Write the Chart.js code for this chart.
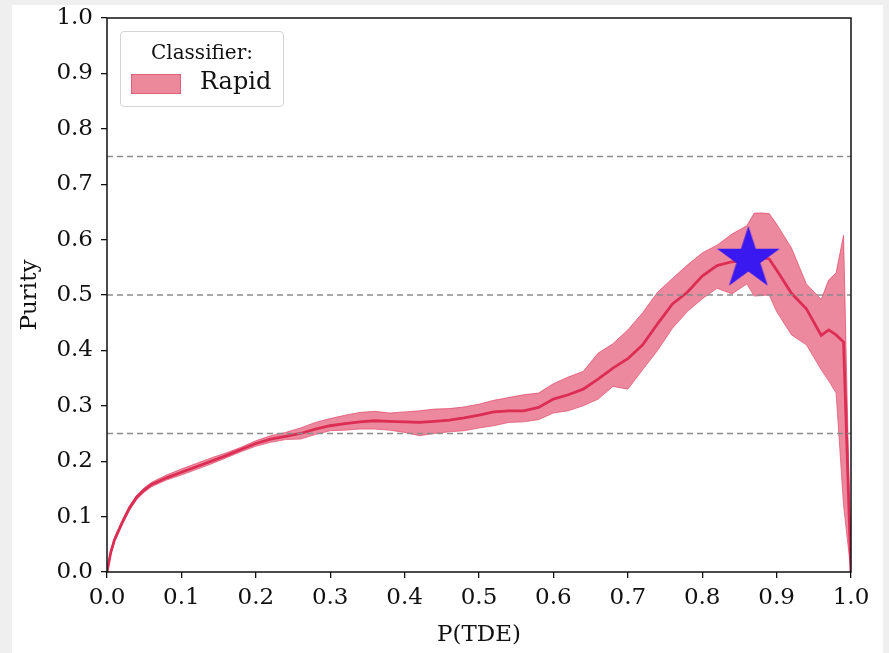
<!DOCTYPE html>
<html>
<head>
<meta charset="utf-8">
<script src="https://cdn.jsdelivr.net/npm/chart.js@4.4.1/dist/chart.umd.min.js"></script>
<style>
  html, body { margin: 0; padding: 0; background: #efefef; }
  #card { position: absolute; left: 12px; top: 5px; width: 871px; height: 648px; background: #fff; }
  #chart { position: absolute; left: 0; top: 0; }
  #legend {
    position: absolute; left: 108px; top: 26px; width: 162px; height: 74px;
    border: 1px solid #d4d4d4; border-radius: 4px; background: rgba(255,255,255,0.85);
    font-family: "DejaVu Serif", serif; color: #111;
  }
  #legend .title { position: absolute; left: 0; right: 0; top: 8px; text-align: center; font-size: 20px; }
  #legend .patch { position: absolute; left: 10px; top: 42px; width: 48px; height: 18px; background: #ec8a9c; border: 1px solid #e0607a; }
  #legend .label { position: absolute; left: 79px; top: 35px; font-size: 24px; }
</style>
</head>
<body>
<div id="card">
  <canvas id="chart" width="871" height="648"></canvas>
  <div id="legend">
    <div class="title">Classifier:</div>
    <div class="patch"></div>
    <div class="label">Rapid</div>
  </div>
</div>
<script>
// P(TDE) threshold grid
const pTDE = [0, 0.005, 0.01, 0.02, 0.03, 0.04, 0.05, 0.06, 0.08, 0.10, 0.12, 0.14, 0.16, 0.18, 0.20,
  0.22, 0.24, 0.26, 0.28, 0.30, 0.32, 0.34, 0.36, 0.38, 0.40, 0.42, 0.44, 0.46, 0.48, 0.50,
  0.52, 0.54, 0.56, 0.58, 0.60, 0.62, 0.64, 0.66, 0.68, 0.70, 0.72, 0.74, 0.76, 0.78, 0.80,
  0.82, 0.84, 0.86, 0.87, 0.88, 0.89, 0.90, 0.92, 0.94, 0.96, 0.97, 0.98, 0.99, 1.0];

// mean purity
const purityMean = [0, 0.035, 0.058, 0.088, 0.115, 0.135, 0.148, 0.158, 0.170, 0.180, 0.190, 0.200, 0.210, 0.221, 0.232,
  0.240, 0.245, 0.250, 0.258, 0.264, 0.268, 0.271, 0.273, 0.272, 0.271, 0.270, 0.272, 0.274, 0.278, 0.283,
  0.289, 0.291, 0.291, 0.297, 0.312, 0.320, 0.330, 0.348, 0.368, 0.385, 0.410, 0.448, 0.484, 0.505, 0.534,
  0.553, 0.560, 0.563, 0.565, 0.568, 0.565, 0.545, 0.503, 0.475, 0.427, 0.437, 0.428, 0.415, 0];

// upper / lower envelope
const purityHigh = [0.002, 0.038, 0.062, 0.092, 0.119, 0.139, 0.152, 0.162, 0.175, 0.186, 0.196, 0.206, 0.215, 0.225, 0.237,
  0.246, 0.252, 0.260, 0.270, 0.277, 0.283, 0.288, 0.290, 0.287, 0.289, 0.291, 0.294, 0.295, 0.298, 0.303,
  0.310, 0.315, 0.320, 0.323, 0.340, 0.352, 0.362, 0.395, 0.412, 0.437, 0.468, 0.505, 0.530, 0.554, 0.576,
  0.590, 0.610, 0.625, 0.648, 0.648, 0.647, 0.628, 0.585, 0.520, 0.492, 0.527, 0.540, 0.608, 0];

const purityLow = [0, 0.032, 0.054, 0.084, 0.111, 0.131, 0.144, 0.154, 0.166, 0.175, 0.185, 0.195, 0.206, 0.217, 0.227,
  0.234, 0.239, 0.240, 0.248, 0.255, 0.256, 0.258, 0.258, 0.256, 0.252, 0.246, 0.250, 0.253, 0.255, 0.260,
  0.264, 0.270, 0.271, 0.275, 0.287, 0.291, 0.300, 0.312, 0.335, 0.330, 0.365, 0.400, 0.440, 0.470, 0.493,
  0.512, 0.502, 0.520, 0.498, 0.499, 0.500, 0.470, 0.428, 0.410, 0.365, 0.345, 0.323, 0.120, 0];

const refLevels = [0.25, 0.5, 0.75];
const bestPoint = { x: 0.862, y: 0.565 };
const axisTicks = [0, 0.1, 0.2, 0.3, 0.4, 0.5, 0.6, 0.7, 0.8, 0.9, 1.0];

const SERIF = '"DejaVu Serif", serif';
const pts = ys => pTDE.map((x, i) => ({ x: x, y: ys[i] }));

// filled five-point star used as marker
function makeStar(r, color) {
  const c = document.createElement('canvas');
  const size = Math.ceil(r * 2 + 2);
  c.width = size; c.height = size;
  const g = c.getContext('2d');
  const cx = size / 2, cy = size / 2, inner = r * 0.382;
  g.beginPath();
  for (let k = 0; k < 10; k++) {
    const rad = k % 2 === 0 ? r : inner;
    const a = -Math.PI / 2 + k * Math.PI / 5;
    const px = cx + rad * Math.cos(a), py = cy + rad * Math.sin(a);
    if (k === 0) g.moveTo(px, py); else g.lineTo(px, py);
  }
  g.closePath();
  g.fillStyle = color;
  g.fill();
  return c;
}

// black frame around the plot area (all four spines)
const framePlugin = {
  id: 'frame',
  afterDraw(chart) {
    const a = chart.chartArea, ctx = chart.ctx;
    ctx.save();
    ctx.strokeStyle = '#111';
    ctx.lineWidth = 1.5;
    ctx.strokeRect(a.left, a.top, a.right - a.left, a.bottom - a.top);
    ctx.restore();
  }
};

const datasets = [];

refLevels.forEach(level => {
  datasets.push({
    type: 'line',
    data: [{ x: 0, y: level }, { x: 1, y: level }],
    borderColor: '#8c8c8c',
    borderWidth: 1.6,
    borderDash: [6, 4],
    pointRadius: 0,
    fill: false,
    order: 1
  });
});

datasets.push({
  label: 'upper',
  data: pts(purityHigh),
  borderColor: 'rgba(222, 80, 110, 0.7)',
  borderWidth: 1,
  pointRadius: 0,
  tension: 0,
  fill: false,
  order: 5
});
datasets.push({
  label: 'Rapid',
  data: pts(purityLow),
  borderColor: 'rgba(222, 80, 110, 0.7)',
  borderWidth: 1,
  backgroundColor: 'rgba(222, 40, 80, 0.55)',
  pointRadius: 0,
  tension: 0,
  fill: { target: 3 },
  order: 4
});
datasets.push({
  label: 'mean',
  data: pts(purityMean),
  borderColor: '#dc2d55',
  borderWidth: 2.8,
  pointRadius: 0,
  tension: 0,
  fill: false,
  order: 3
});
datasets.push({
  type: 'scatter',
  data: [bestPoint],
  pointStyle: makeStar(33, '#3a18f0'),
  order: 0
});

new Chart(document.getElementById('chart'), {
  type: 'line',
  data: { datasets: datasets },
  options: {
    responsive: false,
    animation: false,
    layout: { padding: { left: 0, top: 13, right: 32, bottom: 0 } },
    plugins: { legend: { display: false }, tooltip: { enabled: false } },
    scales: {
      x: {
        type: 'linear',
        min: 0, max: 1,
        afterBuildTicks: s => { s.ticks = axisTicks.map(v => ({ value: v })); },
        afterFit: s => { s.height = 81; s.paddingLeft = 0; s.paddingRight = 0; },
        border: { display: false },
        grid: { drawOnChartArea: false, drawTicks: true, tickLength: 6, color: '#111', lineWidth: 1.3 },
        ticks: { color: '#111', font: { family: SERIF, size: 23 }, padding: 6, maxRotation: 0,
          callback: v => v.toFixed(1) },
        title: { display: true, text: 'P(TDE)', color: '#111', font: { family: SERIF, size: 23 }, padding: { top: 0 } }
      },
      y: {
        min: 0, max: 1,
        afterBuildTicks: s => { s.ticks = axisTicks.map(v => ({ value: v })); },
        afterFit: s => { s.width = 95; s.paddingTop = 0; s.paddingBottom = 0; },
        border: { display: false },
        grid: { drawOnChartArea: false, drawTicks: true, tickLength: 6, color: '#111', lineWidth: 1.3 },
        ticks: { color: '#111', font: { family: SERIF, size: 23 }, padding: 8,
          callback: v => v.toFixed(1) },
        title: { display: true, text: 'Purity', color: '#111', font: { family: SERIF, size: 23 }, padding: { top: 4, bottom: 0 } }
      }
    }
  },
  plugins: [framePlugin]
});
</script>
</body>
</html>
